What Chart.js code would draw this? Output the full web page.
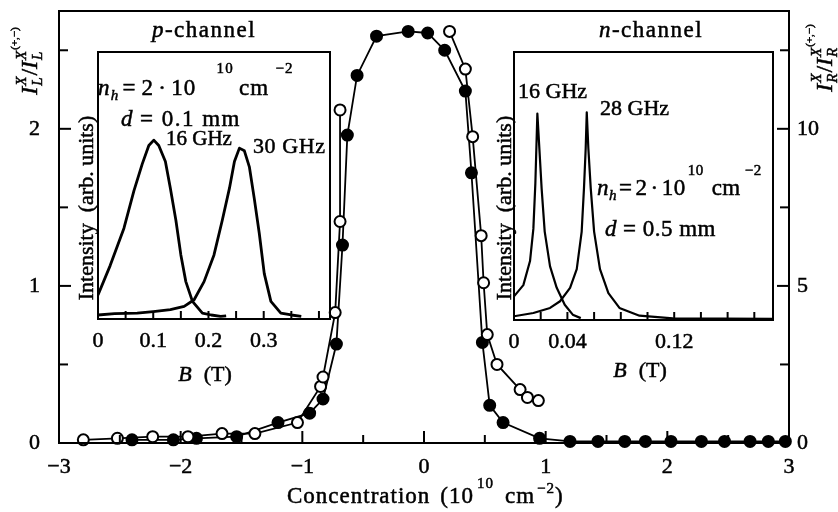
<!DOCTYPE html>
<html>
<head>
<meta charset="utf-8">
<script src="https://cdn.jsdelivr.net/npm/chart.js@4.4.1/dist/chart.umd.min.js"></script>
<style>
html, body { margin: 0; padding: 0; background: #fff; }
#wrap { position: relative; width: 838px; height: 512px; }
#wrap canvas { position: absolute; left: 0; top: 0; }
</style>
</head>
<body>
<div id="wrap">
<canvas id="mainChart" width="838" height="512"></canvas>
<canvas id="pInset" width="838" height="512"></canvas>
<canvas id="nInset" width="838" height="512"></canvas>
</div>
<script>
// main panel: ratio vs concentration (10^10 cm^-2)
var openLeftX = [-2.80, -2.52, -2.23, -1.94, -1.66, -1.39, -1.04, -0.85, -0.83, -0.73, -0.69, -0.69];
var openLeftY = [0.02, 0.03, 0.04, 0.04, 0.06, 0.06, 0.13, 0.36, 0.42, 0.83, 1.41, 2.12];
var openRightX = [0.21, 0.34, 0.40, 0.47, 0.49, 0.52, 0.60, 0.79, 0.85, 0.94];
var openRightY = [2.62, 2.38, 1.95, 1.32, 1.02, 0.69, 0.50, 0.34, 0.29, 0.27];
var solidX = [-2.40, -2.06, -1.87, -1.54, -1.20, -0.94, -0.83, -0.72, -0.67, -0.63, -0.55, -0.39, -0.13, 0.03, 0.17, 0.34, 0.39, 0.48, 0.54, 0.65, 0.95, 1.20, 1.43, 1.65, 1.82, 2.03, 2.28, 2.47, 2.68, 2.83, 2.97];
var solidY = [0.02, 0.02, 0.03, 0.04, 0.13, 0.19, 0.28, 0.63, 1.26, 1.96, 2.34, 2.59, 2.62, 2.61, 2.50, 2.24, 1.72, 0.64, 0.24, 0.13, 0.03, 0.01, 0.01, 0.01, 0.01, 0.01, 0.01, 0.01, 0.01, 0.01, 0.01];

// p-channel inset: intensity vs B (T)
var p16B = [0, 0.022, 0.047, 0.065, 0.080, 0.092, 0.101, 0.110, 0.122, 0.131, 0.141, 0.150, 0.159, 0.171, 0.189, 0.205, 0.222, 0.232];
var p16I = [0.09, 0.20, 0.34, 0.48, 0.58, 0.65, 0.67, 0.65, 0.59, 0.49, 0.37, 0.24, 0.14, 0.066, 0.022, 0.015, 0.010, 0.012];
var p30B = [0, 0.030, 0.071, 0.100, 0.131, 0.156, 0.174, 0.192, 0.210, 0.225, 0.238, 0.247, 0.256, 0.265, 0.274, 0.283, 0.292, 0.301, 0.313, 0.331, 0.350, 0.368];
var p30I = [0.015, 0.020, 0.022, 0.028, 0.035, 0.047, 0.072, 0.14, 0.24, 0.37, 0.49, 0.59, 0.64, 0.63, 0.57, 0.45, 0.32, 0.17, 0.066, 0.022, 0.015, 0.010];

// n-channel inset
var n16B = [0, 0.007, 0.012, 0.0145, 0.016, 0.0175, 0.019, 0.0207, 0.023, 0.027, 0.032, 0.038, 0.044, 0.050];
var n16I = [0.088, 0.13, 0.22, 0.34, 0.51, 0.77, 0.64, 0.49, 0.33, 0.20, 0.12, 0.057, 0.020, 0.007];
var n28B = [0, 0.0145, 0.027, 0.0345, 0.042, 0.047, 0.0507, 0.0524, 0.0537, 0.0545, 0.0557, 0.0575, 0.060, 0.0644, 0.0707, 0.079, 0.094, 0.119, 0.194];
var n28I = [0.014, 0.026, 0.045, 0.07, 0.12, 0.19, 0.33, 0.49, 0.64, 0.775, 0.64, 0.49, 0.33, 0.19, 0.10, 0.045, 0.016, 0.006, 0.004];

// tick labels that are printed
var mainXLabels = [-3, -2, -1, 0, 1, 2, 3];
var leftYLabels = [0, 1, 2];
var rightYLabels = [0, 5, 10];
var pInsetLabels = [0, 0.1, 0.2, 0.3];
var nInsetLabels = [0, 0.04, 0.12];

var FONT = "'Liberation Serif', 'Times New Roman', serif";
Chart.defaults.font.family = FONT;
Chart.defaults.color = '#000';
Chart.defaults.animation = false;

function toPoints(xs, ys) {
    return xs.map(function(x, i) { return { x: x, y: ys[i] }; });
}

function near(v, list) {
    for (var i = 0; i < list.length; i++) {
        if (Math.abs(v - list[i]) < 1e-6) return list[i];
    }
    return null;
}

function fmt(v) {
    if (v < 0) return '\u2212' + Math.abs(v);
    return String(+v.toFixed(2));
}

function labelsFrom(list) {
    return function(v) {
        var m = near(v, list);
        return m === null ? '' : fmt(m);
    };
}

// no extra room round the axes, the plot area is set by the padding
function noPad(s) {
    s.paddingTop = 0; s.paddingBottom = 0; s.paddingLeft = 0; s.paddingRight = 0;
}

// text made of pieces (sub/superscripts)
function P(t, s, dy, it, g, stack) {
    return { t: t, s: s, dy: dy || 0, it: !!it, g: g || 0, stack: !!stack };
}

function drawText(ctx, parts, x, y, opt) {
    opt = opt || {};
    ctx.save();
    ctx.letterSpacing = (opt.ls || 0) + 'px';
    ctx.translate(x, y);
    if (opt.rot) ctx.rotate(-Math.PI / 2);
    var items = [], cx = 0, prevStart = 0;
    parts.forEach(function(p) {
        ctx.font = (p.it ? 'italic ' : '') + p.s + 'px ' + FONT;
        var w = ctx.measureText(p.t).width;
        var start = p.stack ? prevStart : cx + p.g;
        items.push({ p: p, x: start, font: ctx.font });
        prevStart = start;
        cx = Math.max(cx, start + w);
    });
    var x0 = opt.align === 'center' ? -cx / 2 : 0;
    ctx.fillStyle = '#000';
    ctx.strokeStyle = '#000';
    ctx.lineWidth = 0.5;
    ctx.textBaseline = 'alphabetic';
    ctx.textAlign = 'left';
    items.forEach(function(it) {
        ctx.font = it.font;
        ctx.fillText(it.p.t, x0 + it.x, it.p.dy);
        ctx.strokeText(it.p.t, x0 + it.x, it.p.dy);
    });
    ctx.restore();
}

// box round the plot area and inward ticks
function framePlugin(tickDefs, lineWidth) {
    return {
        id: 'frame',
        afterDraw: function(chart) {
            var ctx = chart.ctx, a = chart.chartArea;
            ctx.save();
            ctx.strokeStyle = '#000';
            ctx.lineWidth = lineWidth;
            ctx.strokeRect(a.left, a.top, a.right - a.left, a.bottom - a.top);
            tickDefs.forEach(function(t) {
                var s = chart.scales[t.id];
                s.ticks.forEach(function(tk) {
                    var v = tk.value;
                    if (v <= s.min + 1e-9 || v >= s.max - 1e-9) return;
                    var r = v / t.majorStep;
                    var len = Math.abs(r - Math.round(r)) < 1e-6 ? t.major : t.minor;
                    var p = s.getPixelForValue(v);
                    ctx.beginPath();
                    if (t.side === 'bottom') { ctx.moveTo(p, a.bottom); ctx.lineTo(p, a.bottom - len); }
                    if (t.side === 'left') { ctx.moveTo(a.left, p); ctx.lineTo(a.left + len, p); }
                    if (t.side === 'right') { ctx.moveTo(a.right, p); ctx.lineTo(a.right - len, p); }
                    ctx.stroke();
                });
            });
            ctx.restore();
        }
    };
}

function textPlugin(draw) {
    return { id: 'texts', afterDraw: function(chart) { draw(chart.ctx); } };
}

var tickFont = { size: 22 };
var noGrid = { display: false, drawTicks: false };

// ---------- main chart ----------
new Chart(document.getElementById('mainChart'), {
    type: 'scatter',
    data: {
        datasets: [
            {
                data: toPoints(openLeftX, openLeftY),
                showLine: true, borderColor: '#000', borderWidth: 1.8,
                pointRadius: 5.5, pointBorderWidth: 2, pointBackgroundColor: '#fff', pointBorderColor: '#000',
                yAxisID: 'y', clip: false
            },
            {
                data: toPoints(openRightX, openRightY),
                showLine: true, borderColor: '#000', borderWidth: 1.8,
                pointRadius: 5.5, pointBorderWidth: 2, pointBackgroundColor: '#fff', pointBorderColor: '#000',
                yAxisID: 'y', clip: false
            },
            {
                data: toPoints(solidX, solidY),
                showLine: true, borderColor: '#000', borderWidth: 1.8,
                pointRadius: 5.5, pointBorderWidth: 2, pointBackgroundColor: '#000', pointBorderColor: '#000',
                yAxisID: 'y', clip: false
            }
        ]
    },
    options: {
        responsive: false,
        devicePixelRatio: 1,
        layout: { padding: { top: 11, left: 0, right: 0, bottom: 0 }, autoPadding: false },
        plugins: { legend: { display: false }, tooltip: { enabled: false } },
        scales: {
            x: {
                type: 'linear', min: -3, max: 3,
                grid: noGrid, border: { display: false },
                ticks: { stepSize: 0.5, includeBounds: false, autoSkip: false, maxRotation: 0,
                    font: tickFont, padding: 11, textStrokeColor: '#000', textStrokeWidth: 0.5,
                    callback: labelsFrom(mainXLabels) },
                afterFit: function(s) { noPad(s); s.height = 69; }
            },
            y: {
                position: 'left', min: 0, max: 2.75,
                grid: noGrid, border: { display: false },
                ticks: { stepSize: 0.5, includeBounds: false, autoSkip: false,
                    font: tickFont, padding: 19, textStrokeColor: '#000', textStrokeWidth: 0.5,
                    callback: labelsFrom(leftYLabels) },
                afterFit: function(s) { noPad(s); s.width = 59; }
            },
            y2: {
                position: 'right', min: 0, max: 13.75,
                grid: noGrid, border: { display: false },
                ticks: { stepSize: 2.5, includeBounds: false, autoSkip: false,
                    font: tickFont, padding: 8, textStrokeColor: '#000', textStrokeWidth: 0.5,
                    callback: labelsFrom(rightYLabels) },
                afterFit: function(s) { noPad(s); s.width = 49; }
            }
        }
    },
    plugins: [
        framePlugin([
            { id: 'x', side: 'bottom', majorStep: 1, major: 12, minor: 8 },
            { id: 'y', side: 'left', majorStep: 1, major: 12, minor: 9 },
            { id: 'y2', side: 'right', majorStep: 5, major: 12, minor: 9 }
        ], 2),
        textPlugin(function(ctx) {
            drawText(ctx, [P('p', 23, 0, 1), P('-channel', 23)], 204, 37, { align: 'center', ls: 1.5 });
            drawText(ctx, [P('n', 23, 0, 1), P('-channel', 23)], 651, 37, { align: 'center', ls: 1.5 });
            drawText(ctx, [P('Concentration', 23), P('(10', 23, 0, 0, 10), P('10', 15, -15, 0, 3),
                P('cm', 23, 0, 0, 11), P('\u22122', 15, -10, 0, 2), P(')', 23, 0, 0, 0)], 287, 503, { ls: 1 });
            var ratioL = [P('I', 24, 0, 1), P('L', 15, 5, 1, 1), P('X', 15, -11, 1, 0, true), P('/', 24, 0, 0, 1),
                P('I', 24, 0, 1), P('L', 15, 5, 1, 1), P('X', 15, -11, 1, 0, true), P('(+,\u2212)', 11, -19, 0, 1)];
            drawText(ctx, ratioL, 37, 61, { rot: true, align: 'center' });
            var ratioR = [P('I', 24, 0, 1), P('R', 15, 5, 1, 1), P('X', 15, -11, 1, 0, true), P('/', 24, 0, 0, 1),
                P('I', 24, 0, 1), P('R', 15, 5, 1, 1), P('X', 15, -11, 1, 0, true), P('(+,\u2212)', 11, -19, 0, 1)];
            drawText(ctx, ratioR, 832, 58, { rot: true, align: 'center' });
        })
    ]
});

// ---------- inset helper ----------
function insetChart(id, sets, xMax, step, labels, box, texts) {
    return new Chart(document.getElementById(id), {
        type: 'scatter',
        data: {
            datasets: sets.map(function(s) {
                return { data: toPoints(s[0], s[1]), showLine: true, borderColor: '#000',
                    borderWidth: s[2], pointRadius: 0, borderJoinStyle: 'round' };
            })
        },
        options: {
            responsive: false,
            devicePixelRatio: 1,
            layout: { padding: { top: box.top, left: box.left, right: 838 - box.right, bottom: 0 }, autoPadding: false },
            plugins: { legend: { display: false }, tooltip: { enabled: false } },
            scales: {
                x: {
                    type: 'linear', min: 0, max: xMax,
                    grid: noGrid, border: { display: false },
                    ticks: { stepSize: step, includeBounds: false, autoSkip: false, maxRotation: 0,
                        font: tickFont, padding: 9, textStrokeColor: '#000', textStrokeWidth: 0.5,
                        callback: labelsFrom(labels) },
                    afterFit: function(s) { noPad(s); s.height = 512 - box.bottom; }
                },
                y: { display: false, min: 0, max: 1 }
            }
        },
        plugins: [
            framePlugin([{ id: 'x', side: 'bottom', majorStep: 100, major: 8, minor: 8 }], 2),
            textPlugin(texts)
        ]
    });
}

insetChart('pInset', [[p16B, p16I, 2.8], [p30B, p30I, 2.8]], 0.42, 0.05, pInsetLabels,
    { left: 98, right: 330, top: 52, bottom: 319 },
    function(ctx) {
        drawText(ctx, [P('n', 23, 0, 1), P('h', 15, 5, 1), P('=', 23, 0, 0, 3), P('2', 23, 0, 0, 5),
            P('\u00b7', 23, 0, 0, 4), P('10', 23, 0, 0, 4), P('10', 15, -22, 0, 20), P('cm', 23, 0, 0, 5),
            P('\u22122', 15, -22, 0, 6)], 98, 95, { ls: 1.2 });
        drawText(ctx, [P('d', 23, 0, 1), P('= 0.1 mm', 23, 0, 0, 6)], 121, 126, { ls: 1.5 });
        drawText(ctx, [P('16 GHz', 21)], 166, 145);
        drawText(ctx, [P('30 GHz', 22)], 253, 153, { ls: 0.6 });
        drawText(ctx, [P('B', 22, 0, 1), P('(T)', 22, 0, 0, 12)], 205, 381, { align: 'center' });
        drawText(ctx, [P('Intensity  (arb. units)', 22)], 93, 208, { rot: true, align: 'center' });
    });

insetChart('nInset', [[n16B, n16I, 2.2], [n28B, n28I, 2.2]], 0.194, 0.02, nInsetLabels,
    { left: 514, right: 773, top: 52, bottom: 320 },
    function(ctx) {
        drawText(ctx, [P('16 GHz', 22)], 518, 98);
        drawText(ctx, [P('28 GHz', 22)], 600, 115);
        drawText(ctx, [P('n', 23, 0, 1), P('h', 15, 5, 1), P('=', 23, 0, 0, 2), P('2', 23, 0, 0, 3),
            P('\u00b7', 23, 0, 0, 3), P('10', 23, 0, 0, 3), P('10', 15, -20, 0, 2), P('cm', 23, 0, 0, 8),
            P('\u22122', 15, -20, 0, 4)], 597, 195, { ls: 0.5 });
        drawText(ctx, [P('d', 23, 0, 1), P('= 0.5 mm', 23, 0, 0, 6)], 605, 236, { ls: 0.5 });
        drawText(ctx, [P('B', 22, 0, 1), P('(T)', 22, 0, 0, 12)], 640, 377, { align: 'center' });
        drawText(ctx, [P('Intensity  (arb. units)', 22)], 511, 208, { rot: true, align: 'center' });
    });
</script>
</body>
</html>
